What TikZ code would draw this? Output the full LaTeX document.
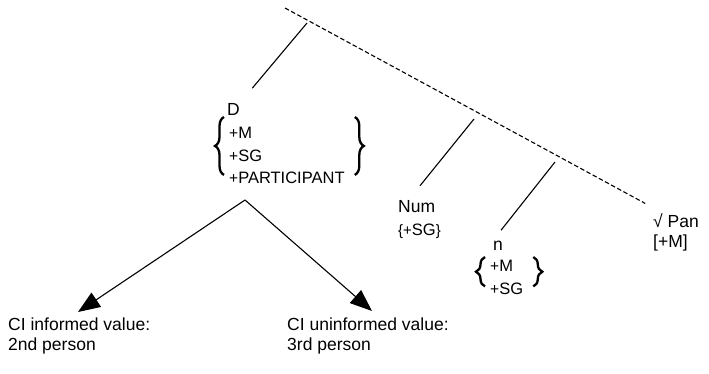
\documentclass[tikz,border=0pt]{standalone}
\usepackage{fontspec}
\setmainfont{Liberation Sans}
\usepackage{tikz}
\usetikzlibrary{arrows,arrows.meta,positioning,calc,decorations.pathreplacing}
\newcommand{\ft}[1]{+{\fontsize{16.5}{16.5}\selectfont #1}}

\begin{document}
\begin{tikzpicture}[x=1pt,y=-1pt,>={Triangle[length=22pt,width=17pt]},
	branch/.style={line width=1.1pt},
	spine/.style={line width=1.1pt,dash pattern=on 4.5pt off 2.5pt},
	curly/.style={decorate,decoration={brace,amplitude=9pt},line width=2.3pt},
	label node/.style={inner sep=0pt,font=\fontsize{17.5}{20}\selectfont},
	feat node/.style={inner sep=0pt,align=left,font=\fontsize{15.5}{22.5}\selectfont}]

    \useasboundingbox (0,0) rectangle (709,373);

    % heads
    \node[label node,anchor=base west] (D) at (227,115) {D};
    \node[feat node,anchor=north west] (DF) at (229,127) {\ft{M}\\ \ft{SG}\\ \ft{PARTICIPANT}};
    \node[label node,anchor=base west] (Num) at (398,212) {Num};
    \node[label node] (NumF) [below=11pt of Num.south west,anchor=north west] {\fontsize{15}{15}\selectfont\{\ft{SG}\}};
    \node[label node,anchor=base west] (n) at (493,250) {n};
    \node[feat node,anchor=north west] (nF) at (490,260) {\ft{M}\\ \ft{SG}};
    \node[label node,anchor=base west] (Pan) at (653,227) {√ Pan};
    \node[label node] (PanF) [below=7pt of Pan.south west,anchor=north west] {[+M]};

    % values
    \node[label node,align=left,anchor=north west] (inf) at (8,318) {CI informed value:\\2nd person};
    \node[label node,align=left,anchor=north west] (unf) at (287,318) {CI uninformed value:\\3rd person};

    % braces round the features
    \draw[curly] ([xshift=-5pt,yshift=9pt]DF.south west) -- ([xshift=-5pt,yshift=10pt]DF.north west);
    \draw[curly] ([xshift=10pt,yshift=10pt]DF.north east) -- ([xshift=10pt,yshift=9pt]DF.south east);
    \draw[curly] ([xshift=-5pt,yshift=8pt]nF.south west) -- ([xshift=-5pt,yshift=3pt]nF.north west);
    \draw[curly] ([xshift=10pt,yshift=3pt]nF.north east) -- ([xshift=10pt,yshift=8pt]nF.south east);

    \coordinate (top) at (285,8);
    \coordinate (b1) at (307,23);
    \coordinate (b2) at (474,119);
    \coordinate (b3) at (555,162);
    \coordinate (apex) at (245,200);

    \draw[spine,shorten >=20pt] (top) -- (Pan);
    \draw[branch,shorten >=19pt] (b1) -- (D.north east);
    \draw[branch,shorten >=18pt] (b2) -- ([xshift=-8pt]Num.north);
    \draw[branch,shorten >=13pt] (b3) -- (n.north west);
%    \draw[branch] (apex) -- (DF.south);
    \draw[branch,->] (apex) -- ([xshift=70pt,yshift=6pt]inf.north west);
    \draw[branch,->] (apex) -- ([xshift=85pt,yshift=7pt]unf.north west);

\end{tikzpicture}
\end{document}
